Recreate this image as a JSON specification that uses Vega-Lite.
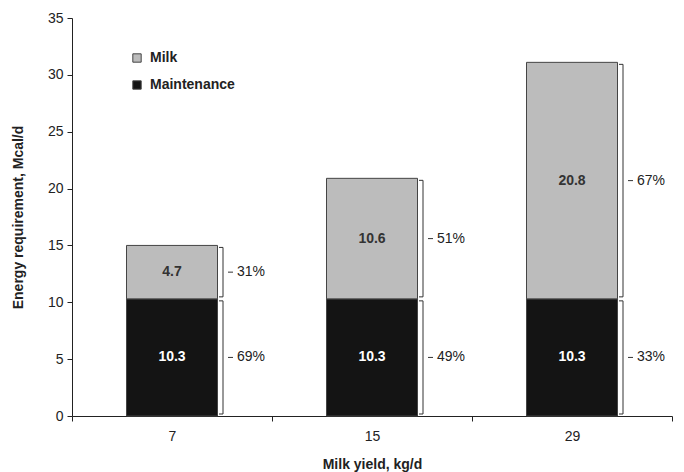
{
  "$schema": "https://vega.github.io/schema/vega-lite/v6.json",
  "width": 600,
  "height": 398,
  "autosize": {"type": "none"},
  "padding": {"left": 72, "top": 18, "right": 12, "bottom": 56},
  "background": "white",
  "config": {
    "view": {"stroke": null},
    "font": "Liberation Sans",
    "axis": {"grid": false, "domainColor": "#222", "tickColor": "#222", "labelColor": "#222", "titleColor": "#222", "labelFontSize": 14, "titleFontSize": 14, "titleFontWeight": "bold", "labelFont": "Liberation Sans", "titleFont": "Liberation Sans"}
  },
  "data": {
    "values": [
      {"yield": "7", "segment": "Maintenance", "value": 10.3, "start": 0, "end": 10.3, "mid": 5.15, "pct": "69%"},
      {"yield": "7", "segment": "Milk", "value": 4.7, "start": 10.3, "end": 15.0, "mid": 12.65, "pct": "31%"},
      {"yield": "15", "segment": "Maintenance", "value": 10.3, "start": 0, "end": 10.3, "mid": 5.15, "pct": "49%"},
      {"yield": "15", "segment": "Milk", "value": 10.6, "start": 10.3, "end": 20.9, "mid": 15.6, "pct": "51%"},
      {"yield": "29", "segment": "Maintenance", "value": 10.3, "start": 0, "end": 10.3, "mid": 5.15, "pct": "33%"},
      {"yield": "29", "segment": "Milk", "value": 20.8, "start": 10.3, "end": 31.1, "mid": 20.7, "pct": "67%"}
    ]
  },
  "encoding": {
    "x": {
      "field": "yield", "type": "ordinal", "sort": ["7", "15", "29"],
      "scale": {"paddingInner": 0, "paddingOuter": 0},
      "axis": {"title": "Milk yield, kg/d", "labelAngle": 0, "tickBand": "extent", "tickSize": 5, "labelPadding": 8, "titleY": 41}
    }
  },
  "layer": [
    {
      "mark": {"type": "bar", "stroke": "#444", "strokeWidth": 1, "width": {"band": 0.455}},
      "encoding": {
        "y": {
          "field": "value", "type": "quantitative", "stack": "zero",
          "scale": {"domain": [0, 35], "nice": false},
          "axis": {"title": "Energy requirement, Mcal/d", "values": [0, 5, 10, 15, 20, 25, 30, 35], "tickSize": 5, "labelPadding": 4, "titleX": -47}
        },
        "order": {"field": "segment", "sort": "ascending"},
        "color": {
          "field": "segment", "type": "nominal",
          "scale": {"domain": ["Milk", "Maintenance"], "range": ["#bcbcbc", "#141414"]},
          "legend": {
            "title": null, "orient": "none", "legendX": 58, "legendY": 33,
            "symbolType": "square", "symbolSize": 70, "symbolStrokeColor": "#444", "symbolStrokeWidth": 1,
            "labelFontSize": 14, "labelFontWeight": "bold", "labelColor": "#222", "rowPadding": 13, "labelOffset": 6
          }
        }
      }
    },
    {
      "mark": {"type": "text", "fontSize": 14, "fontWeight": "bold", "align": "center", "baseline": "middle"},
      "encoding": {
        "y": {"field": "mid", "type": "quantitative"},
        "text": {"field": "value", "type": "quantitative", "format": ".1f"},
        "color": {"condition": {"test": "datum.segment === 'Maintenance'", "value": "#ffffff"}, "value": "#333333"}
      }
    },
    {
      "mark": {"type": "rule", "color": "#333", "strokeWidth": 1, "xOffset": 51, "yOffset": -2, "y2Offset": 2},
      "encoding": {
        "y": {"field": "start", "type": "quantitative"},
        "y2": {"field": "end"}
      }
    },
    {
      "mark": {"type": "rule", "color": "#333", "strokeWidth": 1, "xOffset": 47, "x2Offset": 51, "yOffset": -2},
      "encoding": {
        "x2": {"field": "yield"},
        "y": {"field": "start", "type": "quantitative"}
      }
    },
    {
      "mark": {"type": "rule", "color": "#333", "strokeWidth": 1, "xOffset": 47, "x2Offset": 51, "yOffset": 2},
      "encoding": {
        "x2": {"field": "yield"},
        "y": {"field": "end", "type": "quantitative"}
      }
    },
    {
      "mark": {"type": "rule", "color": "#333", "strokeWidth": 1, "xOffset": 56, "x2Offset": 61},
      "encoding": {
        "x2": {"field": "yield"},
        "y": {"field": "mid", "type": "quantitative"}
      }
    },
    {
      "mark": {"type": "text", "fontSize": 14, "align": "left", "baseline": "middle", "xOffset": 65, "color": "#222"},
      "encoding": {
        "y": {"field": "mid", "type": "quantitative"},
        "text": {"field": "pct"}
      }
    }
  ]
}
